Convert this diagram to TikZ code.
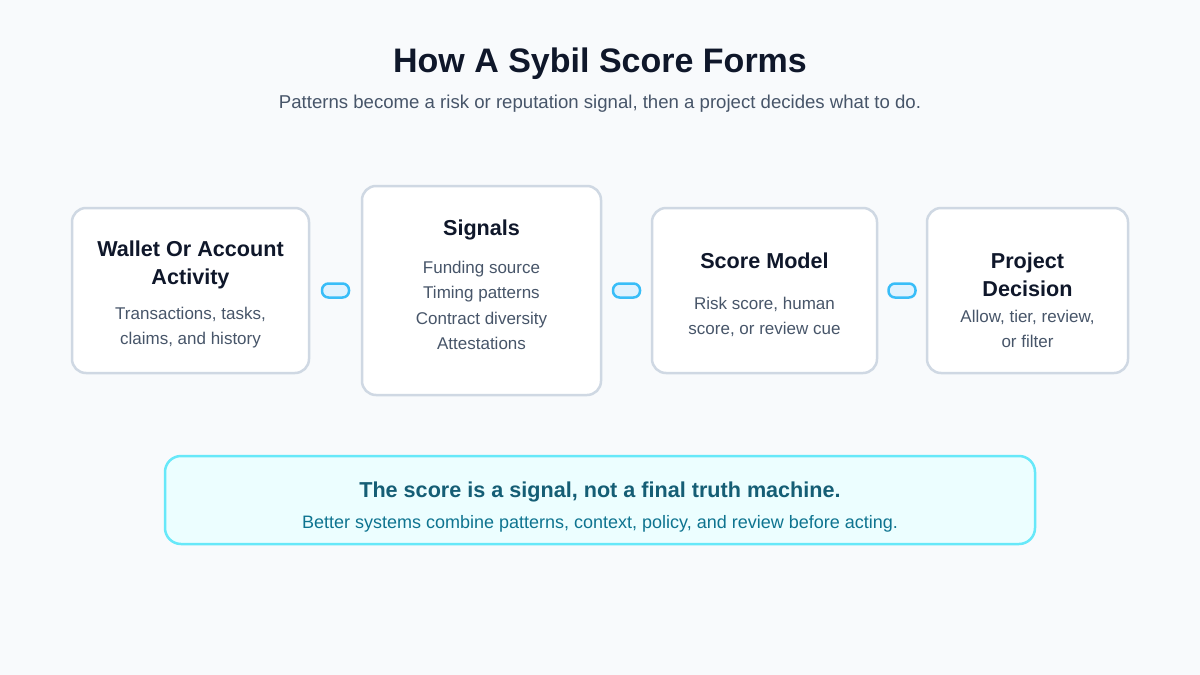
\documentclass[tikz,border=0pt]{standalone}
\usepackage{fontspec}
\setmainfont{Liberation Sans}
\usetikzlibrary{calc}
\definecolor{bg}{HTML}{F8FAFC}
\definecolor{boxline}{HTML}{CFD8E3}
\definecolor{ink}{HTML}{0F172A}
\definecolor{muted}{HTML}{475569}
\definecolor{pillfill}{HTML}{E0F2FE}
\definecolor{pillline}{HTML}{38BDF8}
\definecolor{notefill}{HTML}{ECFEFF}
\definecolor{noteline}{HTML}{67E8F9}
\definecolor{notehead}{HTML}{155E75}
\definecolor{notebody}{HTML}{0E7490}
\tikzset{
  stage/.style={draw=boxline, line width=2.5pt, fill=white, rounded corners=14pt, inner sep=0pt},
  pill/.style={draw=pillline, line width=2.5pt, fill=pillfill, rounded corners=6.5pt, minimum width=27pt, minimum height=14pt, inner sep=0pt},
  note/.style={draw=noteline, line width=2.5pt, fill=notefill, rounded corners=16pt, inner sep=0pt},
  ttl/.style={anchor=base, inner sep=0pt, text=ink, font=\fontsize{21.6}{25}\selectfont\bfseries},
  bdy/.style={anchor=base, inner sep=0pt, text=muted, font=\fontsize{17}{21}\selectfont},
}
\begin{document}
\begin{tikzpicture}[x=1pt,y=-1pt]
\fill[bg] (0,0) rectangle (1200,675);
\useasboundingbox (0,0) rectangle (1200,675);

% heading
\node[anchor=base, inner sep=0pt, text=ink, font=\fontsize{34}{38}\selectfont\bfseries] (title) at (600,72) {How A Sybil Score Forms};
\node[anchor=base, inner sep=0pt, text=muted, font=\fontsize{18.6}{22}\selectfont] (subtitle) at (600,108.5) {Patterns become a risk or reputation signal, then a project decides what to do.};

% stages
\node[stage, minimum width=237pt, minimum height=165pt] (wallet) at (190.5,290.5) {};
\node[stage, minimum width=239pt, minimum height=209pt] (signals) at (481.5,290.5) {};
\node[stage, minimum width=225pt, minimum height=165pt] (score) at (764.5,290.5) {};
\node[stage, minimum width=201pt, minimum height=165pt] (decision) at (1027.5,290.5) {};

% connectors
\node[pill] (c1) at ($(wallet.east)!0.5!(signals.west)$) {};
\node[pill] (c2) at ($(signals.east)!0.5!(score.west)$) {};
\node[pill] (c3) at ($(score.east)!0.5!(decision.west)$) {};

% stage texts
\node[ttl] (w1) at (190.5,256.5) {Wallet Or Account};
\node[ttl] (w2) at (190.5,284.5) {Activity};
\node[bdy] (w3) at (190.5,319) {Transactions, tasks,};
\node[bdy] (w4) at (190.5,344) {claims, and history};

\node[ttl] (s1) at (481.5,235.5) {Signals};
\node[bdy] (s2) at (481.5,273) {Funding source};
\node[bdy] (s3) at (481.5,298) {Timing patterns};
\node[bdy] (s4) at (481.5,324) {Contract diversity};
\node[bdy] (s5) at (481.5,349) {Attestations};

\node[ttl] (m1) at (764.5,268.5) {Score Model};
\node[bdy] (m2) at (764.5,309) {Risk score, human};
\node[bdy] (m3) at (764.5,334) {score, or review cue};

\node[ttl] (d1) at (1027.5,268.5) {Project};
\node[ttl] (d2) at (1027.5,296.5) {Decision};
\node[bdy] (d3) at (1027.5,322) {Allow, tier, review,};
\node[bdy] (d4) at (1027.5,347) {or filter};

% note
\node[note, minimum width=870pt, minimum height=88pt] (notebox) at (600,500) {};
\node[anchor=base, inner sep=0pt, text=notehead, font=\fontsize{21.6}{25}\selectfont\bfseries] (n1) at (600,497.5) {The score is a signal, not a final truth machine.};
\node[anchor=base, inner sep=0pt, text=notebody, font=\fontsize{18}{22}\selectfont] (n2) at (600,528.5) {Better systems combine patterns, context, policy, and review before acting.};
\end{tikzpicture}
\end{document}
